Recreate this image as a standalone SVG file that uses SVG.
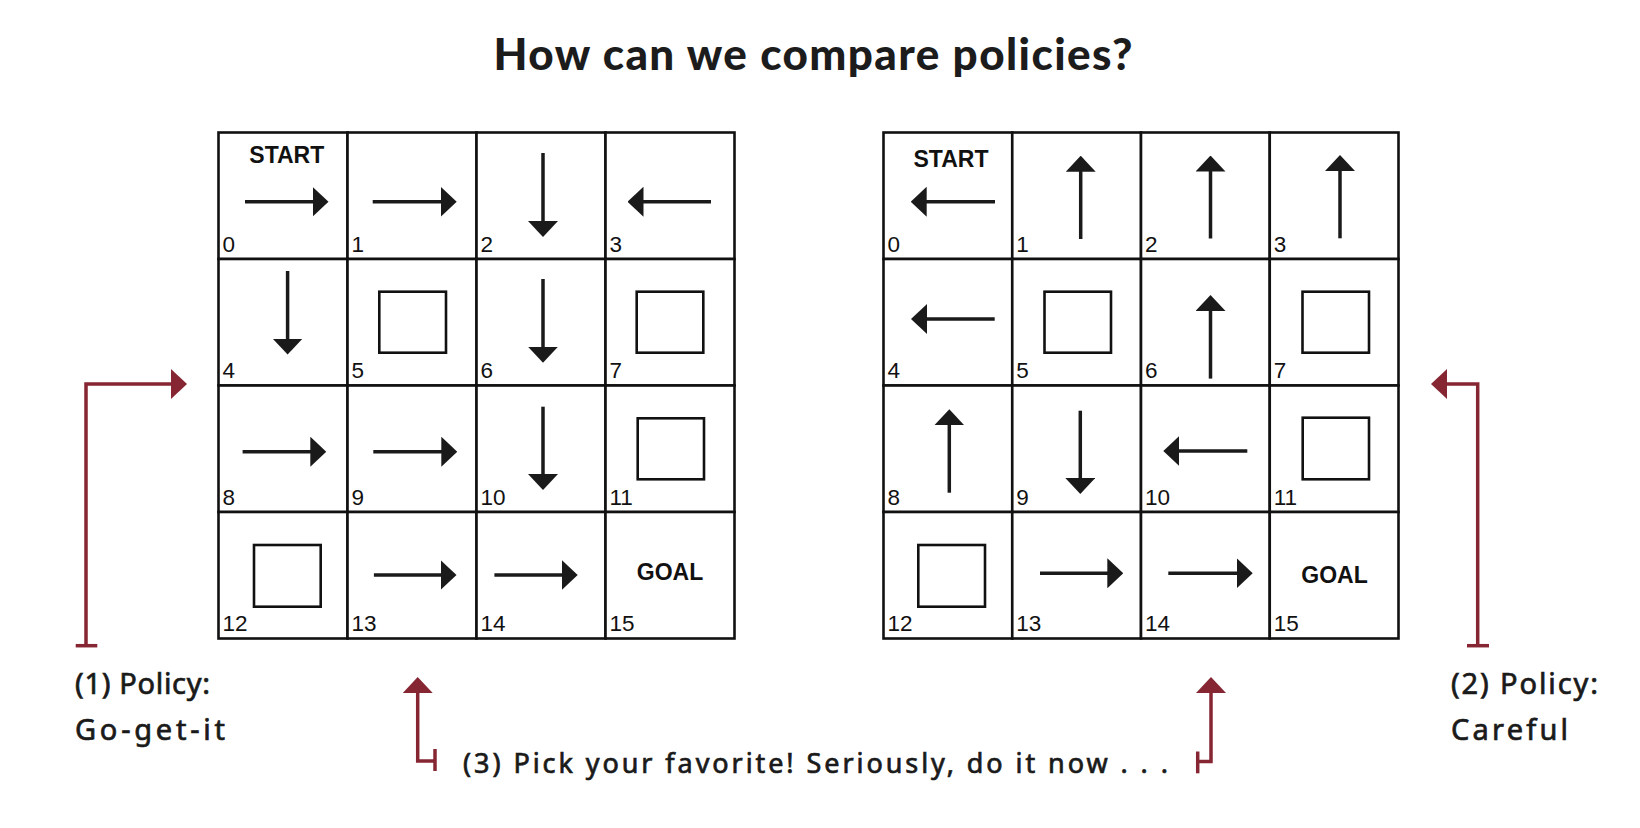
<svg xmlns="http://www.w3.org/2000/svg" width="1640" height="828" viewBox="0 0 1640 828">
<defs>
<marker id="ah" viewBox="0 0 16 30" refX="1" refY="15" markerWidth="16" markerHeight="30" markerUnits="userSpaceOnUse" orient="auto"><path d="M0,0 L16,15 L0,30 z" fill="#1a1a1a"/></marker>
<marker id="rh" viewBox="0 0 16 30" refX="1" refY="15" markerWidth="16" markerHeight="30" markerUnits="userSpaceOnUse" orient="auto"><path d="M0,0 L16,15 L0,30 z" fill="#862633"/></marker>
<style>
.cell{fill:#fff;stroke:#111;stroke-width:2.6}
.num{font-family:"Liberation Sans",Arial,sans-serif;font-size:22.5px;fill:#111}
.lbl{font-family:"Liberation Sans",Arial,sans-serif;font-size:23px;font-weight:bold;fill:#111;text-anchor:middle}
.arr{stroke:#1a1a1a;stroke-width:3.5;fill:none;marker-end:url(#ah)}
.obs{fill:none;stroke:#111;stroke-width:2.6}
.red{stroke:#862633;stroke-width:3.5;fill:none}
.hand{font-family:"Noto Sans","DejaVu Sans",sans-serif;font-size:29px;fill:#1a1a1a;stroke:#1a1a1a;stroke-width:0.7}
.hand2{font-family:"Noto Sans","DejaVu Sans",sans-serif;font-size:27px;fill:#1a1a1a;stroke:#1a1a1a;stroke-width:0.7}
.title{font-family:Lato,"Liberation Sans",sans-serif;font-size:44px;font-weight:900;fill:#1c1c1c;text-anchor:middle}
</style>
</defs>
<rect width="1640" height="828" fill="#fff"/>
<text class="title" x="813" y="70" textLength="639">How can we compare policies?</text>

<g id="gridA">
<g id="a0"><rect class="cell" x="218.5" y="132.5" width="129" height="126.5"/><text class="lbl" x="286.8" y="162.7">START</text><line class="arr" x1="245" y1="201.7" x2="313.5" y2="201.7"/><text class="num" x="222.5" y="251.5">0</text></g>
<g id="a1"><rect class="cell" x="347.5" y="132.5" width="129" height="126.5"/><line class="arr" x1="372.7" y1="201.7" x2="441.7" y2="201.7"/><text class="num" x="351.5" y="251.5">1</text></g>
<g id="a2"><rect class="cell" x="476.5" y="132.5" width="129" height="126.5"/><line class="arr" x1="543" y1="153" x2="543" y2="222"/><text class="num" x="480.5" y="251.5">2</text></g>
<g id="a3"><rect class="cell" x="605.5" y="132.5" width="129" height="126.5"/><line class="arr" x1="711" y1="201.7" x2="642.5" y2="201.7"/><text class="num" x="609.5" y="251.5">3</text></g>
<g id="a4"><rect class="cell" x="218.5" y="259" width="129" height="126.5"/><line class="arr" x1="287.6" y1="271" x2="287.6" y2="339.6"/><text class="num" x="222.5" y="378">4</text></g>
<g id="a5"><rect class="cell" x="347.5" y="259" width="129" height="126.5"/><rect class="obs" x="379.3" y="291.7" width="66.7" height="61"/><text class="num" x="351.5" y="378">5</text></g>
<g id="a6"><rect class="cell" x="476.5" y="259" width="129" height="126.5"/><line class="arr" x1="543" y1="279" x2="543" y2="347.7"/><text class="num" x="480.5" y="378">6</text></g>
<g id="a7"><rect class="cell" x="605.5" y="259" width="129" height="126.5"/><rect class="obs" x="636.7" y="291.7" width="66.6" height="61"/><text class="num" x="609.5" y="378">7</text></g>
<g id="a8"><rect class="cell" x="218.5" y="385.5" width="129" height="126.5"/><line class="arr" x1="242.6" y1="451.7" x2="311.3" y2="451.7"/><text class="num" x="222.5" y="504.5">8</text></g>
<g id="a9"><rect class="cell" x="347.5" y="385.5" width="129" height="126.5"/><line class="arr" x1="373.3" y1="451.7" x2="442.3" y2="451.7"/><text class="num" x="351.5" y="504.5">9</text></g>
<g id="a10"><rect class="cell" x="476.5" y="385.5" width="129" height="126.5"/><line class="arr" x1="543" y1="406.7" x2="543" y2="475"/><text class="num" x="480.5" y="504.5">10</text></g>
<g id="a11"><rect class="cell" x="605.5" y="385.5" width="129" height="126.5"/><rect class="obs" x="637.7" y="418.3" width="66.3" height="61"/><text class="num" x="609.5" y="504.5">11</text></g>
<g id="a12"><rect class="cell" x="218.5" y="512" width="129" height="126.5"/><rect class="obs" x="254" y="545" width="66.7" height="61.7"/><text class="num" x="222.5" y="631">12</text></g>
<g id="a13"><rect class="cell" x="347.5" y="512" width="129" height="126.5"/><line class="arr" x1="373.9" y1="575" x2="441.5" y2="575"/><text class="num" x="351.5" y="631">13</text></g>
<g id="a14"><rect class="cell" x="476.5" y="512" width="129" height="126.5"/><line class="arr" x1="494.4" y1="575" x2="562.7" y2="575"/><text class="num" x="480.5" y="631">14</text></g>
<g id="a15"><rect class="cell" x="605.5" y="512" width="129" height="126.5"/><text class="lbl" x="670" y="579.5">GOAL</text><text class="num" x="609.5" y="631">15</text></g>
</g>

<g id="gridB">
<g id="b0"><rect class="cell" x="883.5" y="132.5" width="128.75" height="126.5"/><text class="lbl" x="951" y="166.7">START</text><line class="arr" x1="995" y1="201.7" x2="925.7" y2="201.7"/><text class="num" x="887.5" y="251.5">0</text></g>
<g id="b1"><rect class="cell" x="1012.25" y="132.5" width="128.75" height="126.5"/><line class="arr" x1="1080.7" y1="239" x2="1080.7" y2="170.7"/><text class="num" x="1016.25" y="251.5">1</text></g>
<g id="b2"><rect class="cell" x="1141" y="132.5" width="128.75" height="126.5"/><line class="arr" x1="1210.5" y1="238.5" x2="1210.5" y2="170.5"/><text class="num" x="1145" y="251.5">2</text></g>
<g id="b3"><rect class="cell" x="1269.75" y="132.5" width="128.75" height="126.5"/><line class="arr" x1="1340" y1="238.3" x2="1340" y2="170"/><text class="num" x="1273.75" y="251.5">3</text></g>
<g id="b4"><rect class="cell" x="883.5" y="259" width="128.75" height="126.5"/><line class="arr" x1="994.7" y1="319" x2="926" y2="319"/><text class="num" x="887.5" y="378">4</text></g>
<g id="b5"><rect class="cell" x="1012.25" y="259" width="128.75" height="126.5"/><rect class="obs" x="1044.5" y="291.7" width="66.5" height="61"/><text class="num" x="1016.25" y="378">5</text></g>
<g id="b6"><rect class="cell" x="1141" y="259" width="128.75" height="126.5"/><line class="arr" x1="1210.5" y1="378.6" x2="1210.5" y2="310"/><text class="num" x="1145" y="378">6</text></g>
<g id="b7"><rect class="cell" x="1269.75" y="259" width="128.75" height="126.5"/><rect class="obs" x="1302.5" y="291.7" width="66.5" height="61"/><text class="num" x="1273.75" y="378">7</text></g>
<g id="b8"><rect class="cell" x="883.5" y="385.5" width="128.75" height="126.5"/><line class="arr" x1="949.3" y1="492.7" x2="949.3" y2="424.3"/><text class="num" x="887.5" y="504.5">8</text></g>
<g id="b9"><rect class="cell" x="1012.25" y="385.5" width="128.75" height="126.5"/><line class="arr" x1="1080.3" y1="410.7" x2="1080.3" y2="479"/><text class="num" x="1016.25" y="504.5">9</text></g>
<g id="b10"><rect class="cell" x="1141" y="385.5" width="128.75" height="126.5"/><line class="arr" x1="1247.3" y1="451" x2="1178.3" y2="451"/><text class="num" x="1145" y="504.5">10</text></g>
<g id="b11"><rect class="cell" x="1269.75" y="385.5" width="128.75" height="126.5"/><rect class="obs" x="1302.7" y="417.7" width="66.3" height="61.6"/><text class="num" x="1273.75" y="504.5">11</text></g>
<g id="b12"><rect class="cell" x="883.5" y="512" width="128.75" height="126.5"/><rect class="obs" x="918.3" y="545" width="66.7" height="61.7"/><text class="num" x="887.5" y="631">12</text></g>
<g id="b13"><rect class="cell" x="1012.25" y="512" width="128.75" height="126.5"/><line class="arr" x1="1040" y1="573.3" x2="1108.3" y2="573.3"/><text class="num" x="1016.25" y="631">13</text></g>
<g id="b14"><rect class="cell" x="1141" y="512" width="128.75" height="126.5"/><line class="arr" x1="1168.3" y1="573.3" x2="1237.7" y2="573.3"/><text class="num" x="1145" y="631">14</text></g>
<g id="b15"><rect class="cell" x="1269.75" y="512" width="128.75" height="126.5"/><text class="lbl" x="1334.5" y="582.7">GOAL</text><text class="num" x="1273.75" y="631">15</text></g>
</g>

<g id="connectors">
<path class="red" d="M86,645.7 V384 H172" marker-end="url(#rh)"/>
<line class="red" x1="75.7" y1="645.7" x2="97.3" y2="645.7"/>
<path class="red" d="M1477.7,645.7 V384 H1446" marker-end="url(#rh)"/>
<line class="red" x1="1467" y1="645.7" x2="1489" y2="645.7"/>
<path class="red" d="M435,761 H417.7 V692" marker-end="url(#rh)"/>
<line class="red" x1="435" y1="749" x2="435" y2="771"/>
<path class="red" d="M1197.7,761.5 H1211 V692" marker-end="url(#rh)"/>
<line class="red" x1="1197.7" y1="751.5" x2="1197.7" y2="773.3"/>
</g>

<g id="label1"><text class="hand" x="75" y="694" textLength="135">(1) Policy:</text><text class="hand" x="75" y="740" textLength="150">Go-get-it</text></g>
<g id="label2"><text class="hand" x="1451" y="694" textLength="147">(2) Policy:</text><text class="hand" x="1451" y="740" textLength="117">Careful</text></g>
<g id="label3"><text class="hand2" x="463" y="773" textLength="705">(3) Pick your favorite! Seriously, do it now . . .</text></g>
</svg>
